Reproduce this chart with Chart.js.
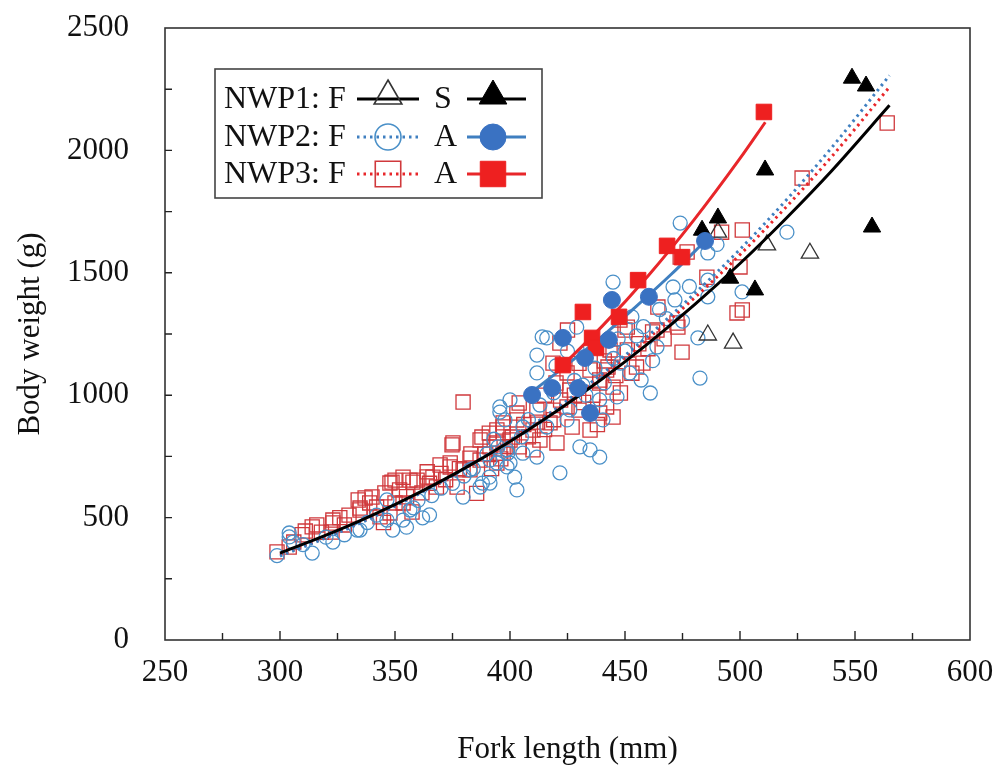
<!DOCTYPE html>
<html><head><meta charset="utf-8">
<script src="https://cdn.jsdelivr.net/npm/chart.js@4.4.1/dist/chart.umd.min.js"></script>
<style>html,body{margin:0;padding:0;background:#fff}#wrap{width:996px;height:774px}</style>
</head><body><div id="wrap"><canvas id="c" width="996" height="774"></canvas></div>
<script>
// ---- axis ticks ----
const xTickValues = [250, 300, 350, 400, 450, 500, 550, 600];
const yTickValues = [0, 500, 1000, 1500, 2000, 2500];
const xMinorTicks = [275, 325, 375, 425, 475, 525, 575];
const yMinorTicks = [250, 750, 1250, 1750, 2250];
const xTitle = 'Fork length (mm)';
const yTitle = 'Body weight (g)';

// ---- observations [fork length, body weight] ----
const nwp1F = [[486,1246],[497,1213],[490.4,1666],[511.7,1614],[530.4,1580]];
const nwp1S = [[548.7,2295],[554.8,2263],[510.9,1920],[490.4,1724],[483.5,1674],[495.7,1478],[506.5,1430],[557.4,1687]];
const nwp2A = [[409.6,1001],[418.3,1029],[429.6,1029],[432.6,1152],[434.8,927],[423,1234],[443,1226],[444.3,1389],[460.4,1402],[484.8,1630]];
const nwp3A = [[423,1123],[431.7,1340],[435.7,1234],[437.4,1193],[447.4,1320],[455.7,1470],[468.3,1610],[474.8,1564],[510.4,2157]];
const nwp2F = [[298.7,345],[305.7,400],[314,355],[304,437],[323,400],[333.5,449],[346.5,490],[349,449],[353.5,490],[362,499],[356.5,531],[304,421],[334.8,449],[355,461],[365,511],[382.6,695],[391,665],[388,641],[398.7,707],[399,763],[402,665],[403,613],[346.5,572],[391.3,735],[387,625],[394.8,789],[395.6,931],[397.8,899],[391.3,641],[379.6,584],
 [414,1238],[411.7,1091],[429,1278],[400,981],[395.6,952],[405.6,870],[398.7,777],[394.3,723],[400,723],[405.6,763],[421.7,683],[424.8,899],[439,981],[440.4,899],[446.5,993],[430.4,789],[434.8,777],[411.7,747],[439,747],
 [416,1234],[411.7,1164],[444.8,1462],[431.7,1041],
 [520.4,1666],[500.9,1422],[482.6,1070],[474,1703],[486,1581],[486,1470],[470.9,1442],[471.7,1389],[461,1009],[481.7,1234],[457,1062],[463.9,1197],[452,1091],[486,1402],[490,1616],[478,1444],[468,1313],[455,1242],[462,1141],[448,1131],[475,1303],
 [310,390],[320,420],[328,430],[338,480],[342,510],[358,540],[360,570],[366,590],[370,620],[375,640],[380,670],[384,700],[390,760],[393,820],[405,830],[408,900],[413,960],[416,870],[419,1010],[426,940],[428,1060],[433,1000],[437,1110],[441,1050],[445,1150],[447,1230],[450,1180],[453,1320],[458,1280],[465,1350],[435,1200],[425,1180],[420,1120]];
const nwp3F = [[298.7,360],[304,380],[309.6,430],[314,462],[316,470],[323,490],[322.6,441],[323,478],[328,470],[334.8,531],[334.8,539],[334,572],[337,580],[339,560],[340,584],[342,543],[345.6,601],[347.8,641],[348.7,645],[350,653],[343.5,503],[347.8,519],[353.5,560],[353.5,665],[357.4,523],[357.8,645],[359.6,653],[361.7,601],[364,666],[364,687],[369.6,715],[374,723],[374.8,797],[379.6,695],[382.6,743],[385.5,599],[387,817],[391,845],[397,870],[395.6,763],[400,817],[403,899],
 [379.6,972],[375.2,805],[356.5,653],[352,613],[366.5,665],[374,707],[368,625],[377,625],[382.6,695],[387,735],[387.8,829],[391.3,789],[394.3,858],[397,887],[394.3,723],
 [425,1266],[421.7,1213],[418.7,1131],[424.8,1091],[426,1021],[434.8,1103],[439,1062],[442,1103],[444.8,1033],[444.8,911],[443.5,1185],[404,968],[403,927],[411.7,939],[418.7,939],[424.8,952],[430,939],[427,870],[434.8,858],[417.4,887],[410,858],[401,829],[397,845],[394.3,805],[404,789],[413,817],[420.4,805],[410,777],[397,763],
 [492,1666],[501,1675],[474,1564],[464.3,1360],[472.6,1295],[463.9,1266],[447.8,1307],[450,1266],[474.8,1176],[444.8,1172],[451,1185],[455,1115],[442.6,1115],[457.8,1131],[439,1050],[448,1009],[442,952],[439,927],[485.6,1482],[498.7,1336],
 [564,2112],[527,1887],[500,1524],[501,1348],[473,1278],[477,1585],[462,1258],[451,1278],
 [365,640],[370,680],[372,655],[378,700],[383,760],[389,760],[392,700],[396,740],[399,790],[406,880],[408,830],[412,890],[415,860],[419,900],[422,980],[428,1000],[432,970],[436,1000],[438,880],[441,1140],[446,1080],[453,1090],[456,1210],[460,1190],[467,1230],[415,1000],[420,1050],[430,1130],
 [318,440],[326,500],[330,510],[311,445],[306,400],[345,480],[350,560],[355,585]];

// ---- fitted curves [fork length, body weight] ----
const curve1F = [[300,355],[320,428],[340,509],[360,600],[380,700],[400,811],[420,933],[440,1066],[460,1211],[480,1368],[500,1538],[520,1722],[540,1918],[565,2184]];
const curve2F = [[300,343],[320,417],[340,500],[360,595],[380,699],[400,816],[420,945],[440,1087],[460,1242],[480,1413],[500,1596],[520,1796],[540,2013],[565,2306]];
const curve3F = [[300,348],[320,421],[340,504],[360,597],[380,700],[400,815],[420,941],[440,1079],[460,1231],[480,1396],[500,1574],[520,1768],[540,1976],[565,2259]];
const curve2A = [[409,1010],[425,1126],[440,1240],[455,1364],[470,1493],[485,1631]];
const curve3A = [[423,1123],[440,1281],[460,1487],[480,1716],[500,1967],[511,2115]];

const FONT = "'Liberation Serif','Times New Roman',serif";
const BLUE = '#3f7fc0', BLUE_OPEN = '#4a90c8', BLUE_FILL = '#3a72c2';
const RED = '#e8262a', RED_OPEN = '#d0393c', RED_FILL = '#ee2020';
const pts = a => a.map(p => ({x: p[0], y: p[1]}));

const datasets = [
  {label:'NWP3 F', data:pts(nwp3F), pointStyle:'rect', pointRadius:10, borderColor:RED_OPEN, backgroundColor:'rgba(0,0,0,0)', pointBorderWidth:1.3, order:10},
  {label:'NWP2 F', data:pts(nwp2F), pointStyle:'circle', pointRadius:7, borderColor:BLUE_OPEN, backgroundColor:'rgba(0,0,0,0)', pointBorderWidth:1.3, order:9},
  {label:'NWP1 F', data:pts(nwp1F), pointStyle:'triangle', pointRadius:10, borderColor:'#333', backgroundColor:'rgba(0,0,0,0)', pointBorderWidth:1.3, order:8},
  {label:'fit1F', data:pts(curve1F), showLine:true, pointRadius:0, borderColor:'#000', borderWidth:3, cubicInterpolationMode:'monotone', order:5},
  {label:'fit2F', data:pts(curve2F), showLine:true, pointRadius:0, borderColor:BLUE, borderWidth:3, borderDash:[2.5,4], cubicInterpolationMode:'monotone', order:6},
  {label:'fit3F', data:pts(curve3F), showLine:true, pointRadius:0, borderColor:RED, borderWidth:3, borderDash:[2.5,4], cubicInterpolationMode:'monotone', order:6},
  {label:'fit2A', data:pts(curve2A), showLine:true, pointRadius:0, borderColor:BLUE, borderWidth:3, cubicInterpolationMode:'monotone', order:4},
  {label:'fit3A', data:pts(curve3A), showLine:true, pointRadius:0, borderColor:RED, borderWidth:3, cubicInterpolationMode:'monotone', order:4},
  {label:'NWP1 S', data:pts(nwp1S), pointStyle:'triangle', pointRadius:10, borderColor:'#000', backgroundColor:'#000', pointBorderWidth:1, order:2},
  {label:'NWP2 A', data:pts(nwp2A), pointStyle:'circle', pointRadius:8.5, borderColor:BLUE_FILL, backgroundColor:BLUE_FILL, pointBorderWidth:1, order:1},
  {label:'NWP3 A', data:pts(nwp3A), pointStyle:'rect', pointRadius:11, borderColor:RED_FILL, backgroundColor:RED_FILL, pointBorderWidth:1, order:1}
];

const framePlugin = {
  id:'frame',
  afterDatasetsDraw(chart){
    const {ctx, chartArea:a, scales:{x, y}} = chart;
    ctx.save();
    ctx.strokeStyle = '#333'; ctx.lineWidth = 1.6;
    ctx.strokeRect(a.left, a.top, a.right - a.left, a.bottom - a.top);
    ctx.lineWidth = 1.4; ctx.strokeStyle = '#222';
    ctx.beginPath();
    xTickValues.forEach(v => { if (v>250 && v<600){ const px=x.getPixelForValue(v); ctx.moveTo(px,a.bottom); ctx.lineTo(px,a.bottom-9);} });
    xMinorTicks.forEach(v => { const px=x.getPixelForValue(v); ctx.moveTo(px,a.bottom); ctx.lineTo(px,a.bottom-7); });
    yTickValues.forEach(v => { if (v>0 && v<2500){ const py=y.getPixelForValue(v); ctx.moveTo(a.left,py); ctx.lineTo(a.left+7,py);} });
    yMinorTicks.forEach(v => { const py=y.getPixelForValue(v); ctx.moveTo(a.left,py); ctx.lineTo(a.left+7,py); });
    ctx.stroke();
    ctx.restore();
  },
  afterDraw(chart){
    const ctx = chart.ctx;
    const dp = Chart.helpers.drawPoint;
    ctx.save();
    const L=215, T=69, R=542, B=198;
    ctx.fillStyle='#fff'; ctx.fillRect(L,T,R-L,B-T);
    ctx.strokeStyle='#444'; ctx.lineWidth=1.6; ctx.strokeRect(L,T,R-L,B-T);
    ctx.font = "32px " + FONT; ctx.fillStyle='#111'; ctx.textBaseline='middle'; ctx.textAlign='left';
    const rows = [
      {y:99, name:'NWP1: F', c1:'#000', dash1:[], st1:'triangle', r1:16, l2:'S', c2:'#000', st2:'triangle', r2:16},
      {y:137, name:'NWP2: F', c1:BLUE, dash1:[2.5,4], st1:'circle', r1:13, l2:'A', c2:BLUE_FILL, st2:'circle', r2:13},
      {y:174, name:'NWP3: F', c1:RED, dash1:[2.5,4], st1:'rect', r1:18, l2:'A', c2:RED_FILL, st2:'rect', r2:18}
    ];
    rows.forEach((r,i) => {
      ctx.fillStyle='#111';
      ctx.fillText(r.name, 224, r.y+1);
      ctx.fillText(r.l2, 434, r.y+1);
      ctx.strokeStyle=r.c1; ctx.lineWidth=3; ctx.setLineDash(r.dash1);
      ctx.beginPath(); ctx.moveTo(357,r.y); ctx.lineTo(419,r.y); ctx.stroke();
      ctx.setLineDash([]);
      const openCol = i===0 ? '#333' : (i===1 ? BLUE_OPEN : RED_OPEN);
      ctx.strokeStyle=openCol; ctx.fillStyle='rgba(0,0,0,0)'; ctx.lineWidth=1.6;
      dp(ctx, {pointStyle:r.st1, radius:r.r1, borderWidth:1.6, rotation:0}, 388, r.st1==='triangle'? r.y-3 : r.y);
      ctx.strokeStyle=(i===0?'#000':(i===1?BLUE:RED)); ctx.lineWidth=3;
      ctx.beginPath(); ctx.moveTo(467,r.y); ctx.lineTo(526,r.y); ctx.stroke();
      ctx.strokeStyle=r.c2; ctx.fillStyle=r.c2; ctx.lineWidth=1;
      dp(ctx, {pointStyle:r.st2, radius:r.r2, borderWidth:1, rotation:0}, 493, r.st2==='triangle'? r.y-3 : r.y);
    });
    ctx.restore();
  }
};

new Chart(document.getElementById('c'), {
  type:'scatter',
  data:{datasets},
  options:{
    responsive:false, animation:false, devicePixelRatio:1,
    layout:{padding:{left:0, right:26, top:28, bottom:0}},
    plugins:{legend:{display:false}, tooltip:{enabled:false}},
    scales:{
      x:{type:'linear', min:250, max:600,
        afterBuildTicks:s=>{ s.ticks = xTickValues.map(v=>({value:v})); },
        afterFit:s=>{ s.height = 134; s.paddingLeft = 0; s.paddingRight = 0; },
        grid:{display:false, drawTicks:false}, border:{display:false},
        ticks:{font:{family:FONT, size:31}, color:'#111', padding:14, maxRotation:0, autoSkip:false, callback:v=>String(v)},
        title:{display:true, text:xTitle, font:{family:FONT, size:31}, color:'#111', padding:{top:0,bottom:6}}
      },
      y:{type:'linear', min:0, max:2500,
        afterBuildTicks:s=>{ s.ticks = yTickValues.map(v=>({value:v})); },
        afterFit:s=>{ s.width = 165; s.paddingTop = 0; s.paddingBottom = 0; },
        grid:{display:false, drawTicks:false}, border:{display:false},
        ticks:{font:{family:FONT, size:31}, color:'#111', padding:36, autoSkip:false, callback:v=>String(v)},
        title:{display:true, text:yTitle, font:{family:FONT, size:31}, color:'#111', padding:{top:12,bottom:0}}
      }
    }
  },
  plugins:[framePlugin]
});
</script></body></html>
